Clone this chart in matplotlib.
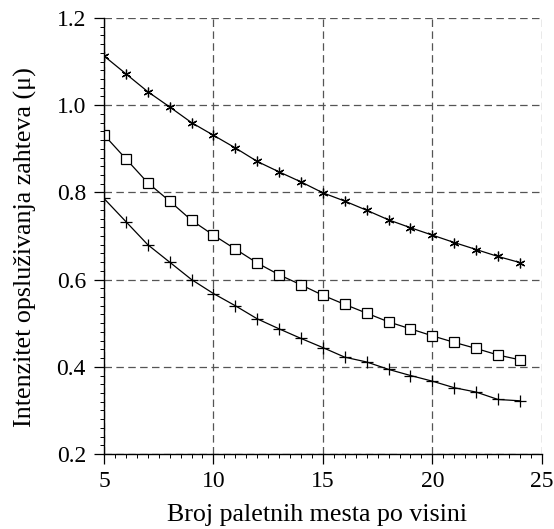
import matplotlib
matplotlib.use("Agg")
import matplotlib.pyplot as plt
from matplotlib.ticker import MultipleLocator

plt.rcParams["font.family"] = ["Liberation Serif", "DejaVu Serif"]

x = list(range(5, 25))

series_star = [1.113, 1.072, 1.031, 0.996, 0.960, 0.931, 0.902, 0.871, 0.847, 0.824,
               0.799, 0.780, 0.759, 0.737, 0.719, 0.702, 0.685, 0.669, 0.653, 0.639]
series_square = [0.932, 0.877, 0.822, 0.780, 0.736, 0.702, 0.670, 0.638, 0.611, 0.588,
                 0.564, 0.543, 0.523, 0.503, 0.487, 0.471, 0.456, 0.442, 0.427, 0.416]
series_plus = [0.786, 0.733, 0.680, 0.640, 0.600, 0.568, 0.540, 0.510, 0.487, 0.465,
               0.444, 0.422, 0.411, 0.394, 0.380, 0.367, 0.352, 0.342, 0.325, 0.322]

fig = plt.figure(figsize=(5.54, 5.29), dpi=100)
ax = fig.add_axes([0.1877, 0.1418, 0.7903, 0.8242])

ax.plot(x, series_star, color="black", lw=0.9, marker=(6, 2, 0), ms=7, mew=0.9)
ax.plot(x, series_square, color="black", lw=0.9, marker="s", ms=6.5,
        mfc="white", mec="black", mew=0.9)
ax.plot(x, series_plus, color="black", lw=0.9, marker="+", ms=8, mew=0.9)

ax.set_xlim(5, 25)
ax.set_ylim(0.2, 1.2)
ax.xaxis.set_major_locator(MultipleLocator(5))
ax.xaxis.set_minor_locator(MultipleLocator(0.5))
ax.yaxis.set_major_locator(MultipleLocator(0.2))
ax.yaxis.set_minor_locator(MultipleLocator(0.02))
ax.yaxis.set_major_formatter(plt.FormatStrFormatter("%.1f"))

ax.grid(True, which="major", color="#555555", linestyle=(0, (6, 3.5)), lw=0.9)
ax.set_axisbelow(True)
for side in ["top", "right"]:
    ax.spines[side].set_visible(False)
for side in ["left", "bottom"]:
    ax.spines[side].set_linewidth(1.0)

ax.tick_params(which="major", direction="out", length=7, width=0.9, labelsize=17)
ax.tick_params(axis="y", which="major", pad=6)
ax.tick_params(axis="x", which="major", pad=5)
ax.tick_params(which="minor", direction="out", length=3, width=0.7)

ax.set_xlabel("Broj paletnih mesta po visini", fontsize=18.7)
ax.set_ylabel("Intenzitet opsluživanja zahteva (μ)", fontsize=18.7)
ax.xaxis.set_label_coords(0.486, -0.115)
ax.yaxis.set_label_coords(-0.153, 0.475)

fig.savefig("out.png", dpi=100)
